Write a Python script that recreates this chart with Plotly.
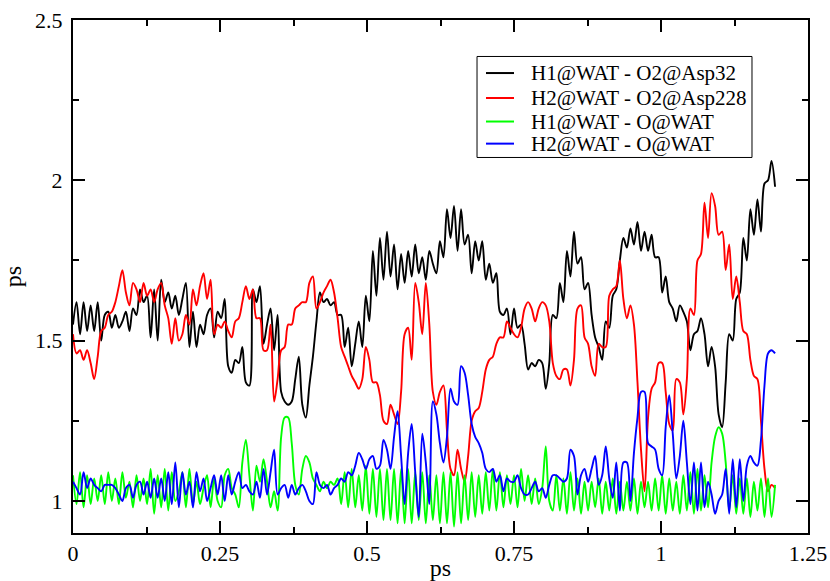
import numpy as np
import plotly.graph_objects as go

# Sampling step of the trajectory (ps)
dt = 0.006
n_frames = 200
time_ps = np.round(np.arange(n_frames) * dt, 3)

series_names = [
    "H1@WAT - O2@Asp32",
    "H2@WAT - O2@Asp228",
    "H1@WAT - O@WAT",
    "H2@WAT - O@WAT",
]
series_colors = ["#000000", "#ff0000", "#00ff00", "#0000ff"]

h1_asp32 = [
    1.55, 1.62, 1.52, 1.62, 1.53, 1.61, 1.53, 1.62, 1.50, 1.58,
    1.59, 1.54, 1.58, 1.54, 1.56, 1.59, 1.53, 1.60, 1.58, 1.66,
    1.62, 1.64, 1.51, 1.66, 1.50, 1.69, 1.62, 1.65, 1.60, 1.64,
    1.58, 1.63, 1.68, 1.48, 1.59, 1.48, 1.55, 1.52, 1.58, 1.60,
    1.51, 1.59, 1.57, 1.63, 1.42, 1.40, 1.44, 1.43, 1.48, 1.37,
    1.36, 1.66, 1.62, 1.67, 1.49, 1.55, 1.60, 1.47, 1.58, 1.34,
    1.31, 1.30, 1.31, 1.38, 1.45, 1.30, 1.26, 1.36, 1.45, 1.56,
    1.65, 1.62, 1.63, 1.61, 1.62, 1.58, 1.58, 1.48, 1.54, 1.42,
    1.49, 1.56, 1.48, 1.64, 1.56, 1.78, 1.64, 1.82, 1.69, 1.84,
    1.70, 1.80, 1.66, 1.77, 1.68, 1.78, 1.70, 1.80, 1.71, 1.76,
    1.69, 1.78, 1.74, 1.71, 1.81, 1.76, 1.91, 1.82, 1.92, 1.78,
    1.91, 1.80, 1.83, 1.71, 1.81, 1.75, 1.81, 1.69, 1.74, 1.68,
    1.71, 1.59, 1.58, 1.60, 1.52, 1.60, 1.54, 1.55, 1.49, 1.41,
    1.43, 1.42, 1.44, 1.43, 1.35, 1.43, 1.58, 1.57, 1.68, 1.62,
    1.78, 1.70, 1.84, 1.74, 1.76, 1.66, 1.68, 1.58, 1.51, 1.48,
    1.44, 1.56, 1.54, 1.64, 1.66, 1.75, 1.82, 1.79, 1.85, 1.80,
    1.87, 1.78, 1.84, 1.78, 1.83, 1.76, 1.76, 1.65, 1.70, 1.62,
    1.60, 1.56, 1.61, 1.59, 1.56, 1.47, 1.52, 1.53, 1.57, 1.52,
    1.42, 1.48, 1.42, 1.27, 1.23, 1.37, 1.52, 1.50, 1.63, 1.65,
    1.82, 1.75, 1.91, 1.83, 1.94, 1.84, 1.99, 2.00, 2.06, 1.98,
]

h2_asp228 = [
    1.52, 1.46, 1.47, 1.44, 1.47, 1.43, 1.38, 1.45, 1.53, 1.54,
    1.58, 1.59, 1.62, 1.67, 1.72, 1.65, 1.61, 1.68, 1.66, 1.62,
    1.68, 1.64, 1.66, 1.62, 1.66, 1.68, 1.61, 1.57, 1.49, 1.57,
    1.50, 1.52, 1.58, 1.55, 1.66, 1.61, 1.67, 1.71, 1.63, 1.69,
    1.52, 1.55, 1.54, 1.56, 1.53, 1.51, 1.56, 1.57, 1.62, 1.67,
    1.63, 1.66, 1.57, 1.57, 1.47, 1.47, 1.55, 1.31, 1.38, 1.47,
    1.48, 1.55, 1.55, 1.60, 1.61, 1.62, 1.62, 1.68, 1.70, 1.60,
    1.62, 1.65, 1.67, 1.69, 1.65, 1.57, 1.48, 1.45, 1.42, 1.39,
    1.37, 1.35, 1.38, 1.48, 1.44, 1.37, 1.37, 1.33, 1.25, 1.24,
    1.30, 1.27, 1.24, 1.34, 1.52, 1.54, 1.44, 1.68, 1.62, 1.52,
    1.68, 1.55, 1.34, 1.30, 1.34, 1.36, 1.22, 1.10, 1.08, 1.16,
    1.10, 1.06, 1.14, 1.25, 1.28, 1.29, 1.34, 1.41, 1.44, 1.45,
    1.49, 1.51, 1.51, 1.56, 1.54, 1.52, 1.51, 1.54, 1.60, 1.62,
    1.60, 1.56, 1.60, 1.62, 1.61, 1.56, 1.43, 1.39, 1.38, 1.41,
    1.41, 1.36, 1.44, 1.60, 1.61, 1.51, 1.49, 1.42, 1.39, 1.49,
    1.48, 1.48, 1.64, 1.66, 1.67, 1.75, 1.63, 1.57, 1.61, 1.55,
    1.37, 1.16, 1.03, 1.26, 1.35, 1.37, 1.43, 1.43, 1.34, 1.24,
    1.22, 1.38, 1.37, 1.27, 1.38, 1.60, 1.58, 1.75, 1.77, 1.93,
    1.82, 1.96, 1.92, 1.83, 1.84, 1.72, 1.80, 1.63, 1.70, 1.62,
    1.53, 1.52, 1.44, 1.39, 1.38, 1.25, 1.10, 1.03, 1.05, 1.04,
]

h1_owat = [
    1.08, 0.99, 1.09, 0.98, 1.08, 0.99, 1.07, 1.00, 1.08, 0.99,
    1.09, 1.00, 1.07, 0.99, 1.09, 1.01, 1.06, 0.98, 1.08, 1.00,
    1.07, 0.99, 1.10, 0.96, 1.08, 0.98, 1.10, 0.97, 1.09, 1.00,
    1.03, 1.09, 0.98, 1.10, 0.99, 1.06, 0.99, 1.04, 1.08, 0.98,
    1.07, 1.00, 0.98, 1.08, 1.10, 1.04, 1.02, 0.98, 1.12, 1.19,
    1.08, 0.97, 1.11, 1.06, 1.13, 1.06, 0.98, 1.03, 0.97, 1.20,
    1.26, 1.26, 1.18, 1.05, 1.02, 1.10, 1.14, 1.12, 1.07, 1.05,
    1.03, 1.06, 1.04, 1.06, 1.05, 1.07, 0.99, 1.09, 0.98, 1.10,
    0.98, 1.08, 0.97, 1.11, 0.96, 1.10, 0.95, 1.10, 0.94, 1.10,
    0.94, 1.10, 0.93, 1.10, 0.93, 1.10, 0.93, 1.09, 0.94, 1.09,
    0.93, 1.08, 0.94, 1.08, 0.93, 1.09, 0.93, 1.09, 0.92, 1.09,
    0.93, 1.08, 0.94, 1.09, 0.95, 1.08, 0.96, 1.09, 0.97, 1.10,
    0.97, 1.09, 0.98, 1.08, 0.99, 1.08, 0.98, 1.10, 1.00, 1.08,
    0.99, 1.07, 0.99, 1.04, 1.17, 1.00, 0.97, 1.08, 0.97, 1.07,
    0.96, 1.09, 0.97, 1.07, 0.96, 1.06, 0.97, 1.06, 0.98, 1.07,
    0.96, 1.06, 0.97, 1.07, 0.96, 1.06, 0.97, 1.06, 0.97, 1.07,
    0.96, 1.06, 0.98, 1.06, 0.97, 1.07, 0.97, 1.08, 0.96, 1.07,
    0.97, 1.06, 0.96, 1.08, 0.97, 1.09, 0.96, 1.10, 0.97, 1.08,
    0.98, 1.12, 1.20, 1.23, 1.21, 1.12, 0.97, 1.08, 0.96, 1.07,
    0.96, 1.07, 0.95, 1.06, 0.97, 1.07, 0.95, 1.07, 0.95, 1.05,
]

h2_owat = [
    1.06, 1.04, 1.02, 1.09, 1.04, 1.07, 1.05, 1.04, 1.03, 1.05,
    1.05, 1.05, 1.04, 1.02, 1.00, 1.04, 1.05, 1.01, 1.05, 1.06,
    1.02, 1.06, 1.01, 1.07, 1.01, 1.07, 1.00, 1.09, 0.99, 1.12,
    0.98, 1.09, 1.02, 1.06, 0.98, 1.09, 1.03, 1.07, 1.00, 1.04,
    1.08, 1.02, 1.08, 1.00, 1.08, 1.02, 1.06, 1.09, 1.04, 1.05,
    1.03, 1.02, 1.06, 1.01, 1.10, 1.02, 1.09, 1.16, 1.02, 1.04,
    1.05, 1.01, 1.05, 1.02, 1.04, 1.05, 1.03, 1.00, 0.99, 1.09,
    1.05, 1.04, 1.05, 1.02, 1.04, 1.05, 1.07, 1.06, 1.09, 1.08,
    1.11, 1.15, 1.13, 1.10, 1.13, 1.14, 1.10, 1.11, 1.19, 1.16,
    1.10, 1.20, 1.28, 1.14, 0.99, 1.15, 1.24, 1.09, 0.95, 1.21,
    1.12, 0.99, 1.31, 1.27, 1.18, 1.12, 1.20, 1.35, 1.31, 1.30,
    1.42, 1.40, 1.33, 1.24, 1.20, 1.18, 1.15, 1.10, 1.09, 1.10,
    1.06, 1.08, 1.03, 1.07, 1.06, 1.06, 1.08, 1.04, 1.02, 1.02,
    1.04, 1.06, 1.03, 1.04, 1.01, 1.05, 1.08, 1.08, 1.07, 1.06,
    1.07, 1.16, 1.14, 1.02, 1.08, 1.10, 1.06, 1.10, 1.14, 1.05,
    1.08, 1.17, 1.07, 1.01, 1.12, 0.97, 1.12, 1.12, 1.00, 1.15,
    1.26, 1.34, 1.34, 1.18, 1.17, 1.16, 1.10, 1.08, 1.23, 1.33,
    1.21, 1.07, 1.14, 1.25, 1.12, 0.99, 1.12, 0.97, 1.12, 0.98,
    1.06, 1.02, 0.96, 1.00, 1.02, 1.10, 0.96, 1.13, 0.98, 1.13,
    1.00, 1.11, 1.14, 1.12, 1.11, 1.19, 1.36, 1.46, 1.47, 1.46,
]

x_tick_vals = [0, 0.25, 0.5, 0.75, 1, 1.25]
x_tick_text = ["0", "0.25", "0.5", "0.75", "1", "1.25"]
y_tick_vals = [1, 1.5, 2, 2.5]
y_tick_text = ["1", "1.5", "2", "2.5"]

serif = "Liberation Serif"
series_values = [h1_asp32, h2_asp228, h1_owat, h2_owat]

fig = go.Figure()
for name, color, values in zip(series_names, series_colors, series_values):
    fig.add_trace(
        go.Scatter(
            x=time_ps,
            y=values,
            mode="lines",
            name=name,
            line=dict(color=color, width=1.9, shape="spline", smoothing=0.9),
        )
    )

axis_common = dict(
    showline=True,
    linecolor="black",
    linewidth=2,
    mirror="ticks",
    ticks="inside",
    ticklen=12,
    tickwidth=2,
    tickcolor="black",
    showgrid=False,
    zeroline=False,
    tickfont=dict(family=serif, size=22, color="black"),
)

fig.update_xaxes(
    range=[0, 1.25],
    tickvals=x_tick_vals,
    ticktext=x_tick_text,
    minor=dict(ticks="inside", ticklen=6, tickwidth=1.5, tickcolor="black", dtick=0.125, tick0=0),
    title=dict(text="ps", font=dict(family=serif, size=24, color="black"), standoff=0),
    **axis_common,
)
fig.update_yaxes(
    range=[0.9, 2.5],
    tickvals=y_tick_vals,
    ticktext=y_tick_text,
    minor=dict(ticks="inside", ticklen=6, tickwidth=1.5, tickcolor="black", dtick=0.25, tick0=0),
    title=dict(text="ps", font=dict(family=serif, size=24, color="black"), standoff=13),
    ticklabelstandoff=4,
    **axis_common,
)

# Boxed key in the upper right of the plotting area (paper coordinates)
key_box = dict(x0=0.5497, x1=0.9238, y0=0.7320, y1=0.9289)
key_rows = [0.8966, 0.8480, 0.8021, 0.7590]
key_line_x = (0.5619, 0.6000)
key_text_x = 0.6200

shapes = [
    dict(
        type="rect", xref="paper", yref="paper",
        fillcolor="white", line=dict(color="black", width=1),
        **key_box,
    )
]
annotations = []
for name, color, row in zip(series_names, series_colors, key_rows):
    shapes.append(
        dict(
            type="line", xref="paper", yref="paper",
            x0=key_line_x[0], x1=key_line_x[1], y0=row, y1=row,
            line=dict(color=color, width=2),
        )
    )
    annotations.append(
        dict(
            text=name, xref="paper", yref="paper",
            x=key_text_x, y=row, xanchor="left", yanchor="middle",
            showarrow=False,
            font=dict(family=serif, size=21, color="black"),
        )
    )

fig.update_layout(
    width=830,
    height=581,
    margin=dict(l=73, r=22, t=20, b=48, autoexpand=False),
    paper_bgcolor="white",
    plot_bgcolor="white",
    showlegend=False,
    shapes=shapes,
    annotations=annotations,
)

fig.write_html("out.html")
